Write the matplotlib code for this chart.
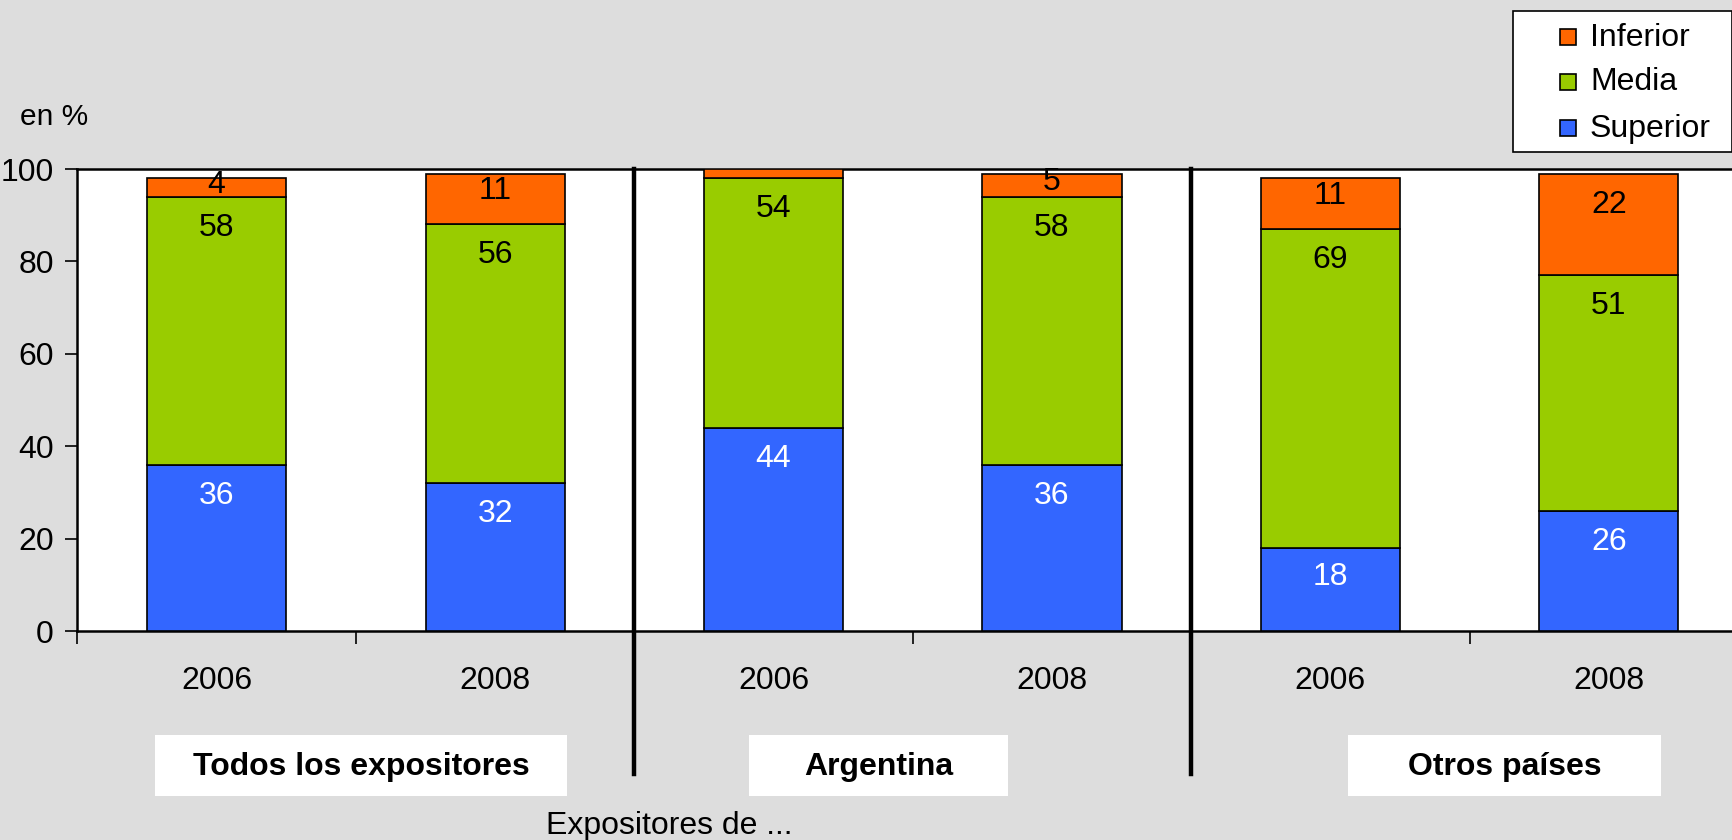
import numpy as np
import matplotlib
matplotlib.use("Agg")
import matplotlib.pyplot as plt
import matplotlib.patches as mpatches
from matplotlib.transforms import blended_transform_factory

plt.rcParams['font.family'] = ['Liberation Sans', 'DejaVu Sans']

# --- data ---
groups = ["Todos los expositores", "Argentina", "Otros países"]
years = ["2006", "2008", "2006", "2008", "2006", "2008"]
superior = [36, 32, 44, 36, 18, 26]
media = [58, 56, 54, 58, 69, 51]
inferior = [4, 11, 2, 5, 11, 22]
inferior_labels = ["4", "11", "", "5", "11", "22"]
series_names = ["Inferior", "Media", "Superior"]

BG = "#DDDDDD"
C_SUP = "#3366FF"
C_MED = "#99CC00"
C_INF = "#FF6600"
FS = 23
W, H = 1733, 840

fig = plt.figure(figsize=(W / 100, H / 100), dpi=100, facecolor=BG)
ax = fig.add_axes([0.0447, 0.2488, 0.964, 0.55])
ax.set_facecolor("white")

x = np.arange(len(years))
kw = dict(width=0.5, edgecolor="black", linewidth=1.2, zorder=3)
ax.bar(x, superior, color=C_SUP, **kw)
ax.bar(x, media, bottom=superior, color=C_MED, **kw)
bottom2 = np.array(superior) + np.array(media)
ax.bar(x, inferior, bottom=bottom2, color=C_INF, **kw)


def put_labels(bottoms, heights, labels, color):
    for xi, b, h, lab in zip(x, bottoms, heights, labels):
        if not lab:
            continue
        off = min(6.7, 0.35 * h)
        ax.text(xi, b + h - off, lab, ha="center", va="center",
                fontsize=FS, color=color, zorder=5)


put_labels([0] * 6, superior, [str(v) for v in superior], "white")
put_labels(superior, media, [str(v) for v in media], "black")
put_labels(bottom2, inferior, inferior_labels, "black")

ax.set_xlim(-0.5, 5.5)
ax.set_ylim(0, 100)
ax.set_yticks(np.arange(0, 101, 20))
ax.tick_params(axis="y", labelsize=FS, length=9, width=1.2, pad=8)
ax.set_xticks(x)
ax.set_xticklabels(years, fontsize=FS)
ax.tick_params(axis="x", length=0, pad=25)
ax.set_xticks(np.arange(-0.5, 5.6, 1), minor=True)
ax.tick_params(axis="x", which="minor", length=9, width=1.2)
for s in ["left", "bottom", "top"]:
    ax.spines[s].set_linewidth(1.8)
ax.spines["right"].set_visible(False)

# group separators
tr = blended_transform_factory(ax.transData, fig.transFigure)
for sx in [1.5, 3.5]:
    ax.plot([sx, sx], [0.7988, 0.0786], transform=tr, color="black",
            linewidth=3.2, clip_on=False, zorder=6)

fig.text(20 / W, 1 - 117 / H, "en %", fontsize=FS - 1.5, ha="left", va="center")

# group label boxes (pixel layout)
box_x = [(155, 567), (749, 1008), (1348, 1661)]
for (x0, x1), g in zip(box_x, groups):
    fig.patches.append(mpatches.Rectangle((x0 / W, 1 - 796 / H), (x1 - x0) / W,
                                          61 / H, transform=fig.transFigure,
                                          facecolor="white", edgecolor="none",
                                          zorder=1))
    fig.text((x0 + x1) / 2 / W, 1 - 767 / H, g, ha="center", va="center",
             fontsize=FS, fontweight="bold", zorder=2)

fig.text(669 / W, 1 - 826 / H, "Expositores de ...", ha="center",
         va="center", fontsize=FS)

# legend, drawn by hand
fig.patches.append(mpatches.Rectangle((1513 / W, 1 - 152 / H), 219 / W, 141 / H,
                                      transform=fig.transFigure, facecolor="white",
                                      edgecolor="black", linewidth=1.2, zorder=1))
for name, col, yc in zip(series_names, [C_INF, C_MED, C_SUP], [37, 82, 128]):
    fig.patches.append(mpatches.Rectangle((1560 / W, 1 - (yc + 8) / H), 16 / W,
                                          16 / H, transform=fig.transFigure,
                                          facecolor=col, edgecolor="black",
                                          linewidth=1.2, zorder=2))
    fig.text(1590 / W, 1 - (yc + 8.5) / H, name, ha="left", va="baseline",
             fontsize=FS, zorder=3)

fig.savefig("out.png", dpi=100, facecolor=BG)
